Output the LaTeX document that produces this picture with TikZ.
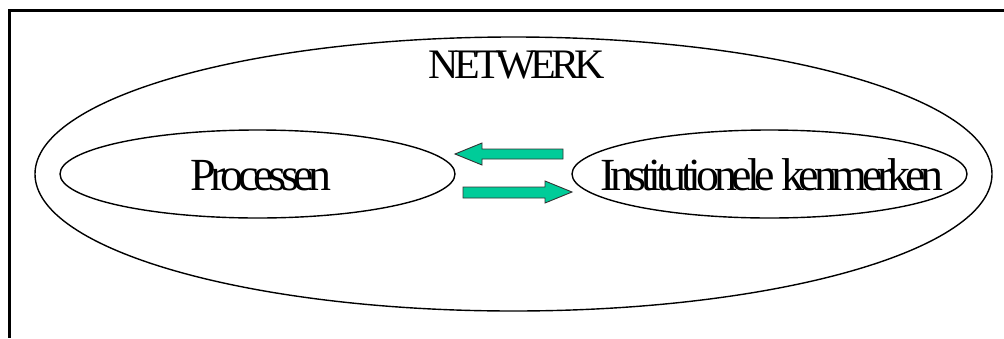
\documentclass[tikz,border=0pt]{standalone}
\usepackage{fontspec}
\setmainfont{Liberation Serif}
\newfontfamily\tightfont[LetterSpace=-11.5]{Liberation Serif}
\definecolor{arrowgreen}{HTML}{00CC99}
\begin{document}
\begin{tikzpicture}[x=1pt,y=-1pt,
  frameline/.style={line width=3pt,black},
  ovalline/.style={draw=black,line width=1.4pt},
  lbl/.style={font=\tightfont\fontsize{46}{46}\selectfont,anchor=base,inner sep=0pt},
  biglbl/.style={font=\tightfont\fontsize{42}{42}\selectfont,anchor=base,inner sep=0pt},
  fatarrow/.style={fill=arrowgreen,draw=black!80,line width=0.9pt,line join=miter}]
\useasboundingbox (0,0) rectangle (1004,338);
% frame
\coordinate (ftl) at (9,10);
\coordinate (ftr) at (1004,10);
\coordinate (fbl) at (9,338);
\draw[frameline] (ftr) -- (ftl) -- (fbl);
% ellipses
\draw[ovalline] (513.5,174) ellipse [x radius=478.5, y radius=137];
\draw[ovalline] (257.5,174) ellipse [x radius=197.5, y radius=44];
\draw[ovalline] (769.5,174) ellipse [x radius=197.5, y radius=44];
% labels
\node[biglbl] (net) at (517,78) {NETWERK};
\node[lbl] (proc) at (261,190) {Processen};
\node[lbl] (inst) at (772,190) {Institutionele kenmerken};
% arrows
\draw[fatarrow] (455,154) -- (482,143) -- (482,149) -- (563,149) -- (563,159) -- (482,159) -- (482,165) -- cycle;
\draw[fatarrow] (572,192) -- (545,181) -- (545,187) -- (463,187) -- (463,198) -- (545,198) -- (545,203) -- cycle;
\end{tikzpicture}
\end{document}
